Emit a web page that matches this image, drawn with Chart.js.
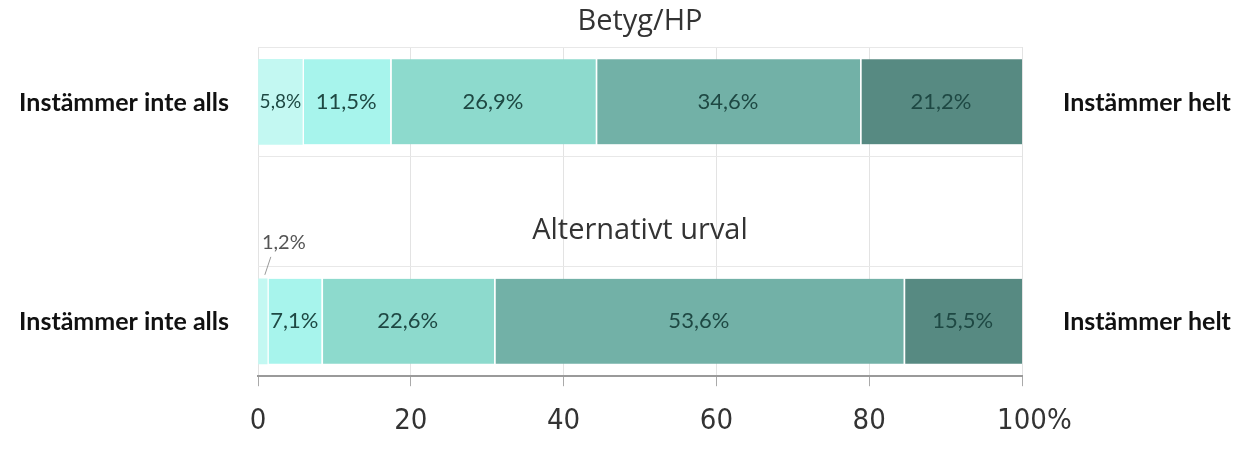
<!DOCTYPE html>
<html>
<head>
<meta charset="utf-8">
<script src="https://cdn.jsdelivr.net/npm/chart.js@4.4.1/dist/chart.umd.min.js"></script>
<style>
  html, body { margin: 0; padding: 0; background: #ffffff; }
  #wrap { width: 1254px; height: 458px; }
</style>
</head>
<body>
<div id="wrap"><canvas id="c" width="1254" height="458"></canvas></div>
<script>
// ---- data ----
const groups = ['Betyg/HP', 'Alternativt urval'];
const groupPositions = [0, 1];
const levelNames = ['Nivå 1', 'Nivå 2', 'Nivå 3', 'Nivå 4', 'Nivå 5'];
const level1 = [5.8, 1.2];
const level2 = [11.5, 7.1];
const level3 = [26.9, 22.6];
const level4 = [34.6, 53.6];
const level5 = [21.2, 15.5];
const xTicks = [0, 20, 40, 60, 80, 100];
const xTickLabels = ['0', '20', '40', '60', '80', '100'];
const unitSuffix = '%';
const leftLabel = 'Instämmer inte alls';
const rightLabel = 'Instämmer helt';

// ---- styles ----
const levels = [level1, level2, level3, level4, level5];
const colors = ['#c3f8f2', '#a7f4ec', '#8ddacd', '#72b1a7', '#578a82'];
const BAR_THICK = 85;
const fmt = v => v.toFixed(1).replace('.', ',') + '%';

const datasets = levels.map((vals, i) => ({
  label: levelNames[i],
  data: vals.map((v, j) => ({ x: v, y: groupPositions[j] })),
  backgroundColor: colors[i],
  borderColor: '#ffffff',
  borderWidth: i > 0 ? { left: 2, right: 0, top: 0, bottom: 0 } : 0,
  borderSkipped: false,
  barThickness: BAR_THICK
}));

const tickFont = { family: "'DejaVu Sans Condensed', 'DejaVu Sans', sans-serif", size: 29 };
const TICK_LEN = 10, TICK_PAD = 18;

const annot = {
  id: 'annot',
  afterDatasetsDraw(chart) {
    const ctx = chart.ctx;
    const ca = chart.chartArea;
    const ys = chart.scales.y, xs = chart.scales.x;
    ctx.save();
    // segment labels
    chart.data.datasets.forEach((ds, i) => {
      const meta = chart.getDatasetMeta(i);
      meta.data.forEach((bar, j) => {
        const p = bar.getProps(['x', 'base', 'y'], true);
        const w = Math.abs(p.x - p.base);
        const cx = (p.x + p.base) / 2;
        const txt = fmt(ds.data[j].x);
        if (w < 25) {
          const top = p.y - BAR_THICK / 2;
          ctx.strokeStyle = '#999';
          ctx.lineWidth = 1;
          ctx.beginPath();
          ctx.moveTo(cx + 2, top - 4);
          ctx.lineTo(cx + 8, top - 22);
          ctx.stroke();
          ctx.font = "20px Lato, 'Open Sans', sans-serif";
          ctx.fillStyle = '#555';
          ctx.textAlign = 'center';
          ctx.textBaseline = 'alphabetic';
          ctx.fillText(txt, cx + 21, top - 30);
        } else {
          let size = 22;
          ctx.font = size + "px Lato, 'Open Sans', sans-serif";
          while (ctx.measureText(txt).width > w - 2 && size > 8) {
            size -= 1;
            ctx.font = size + "px Lato, 'Open Sans', sans-serif";
          }
          ctx.fillStyle = '#1e4843';
          ctx.textAlign = 'center';
          ctx.textBaseline = 'middle';
          ctx.fillText(txt, cx, p.y);
        }
      });
    });
    // group titles
    ctx.fillStyle = '#333';
    ctx.textAlign = 'center';
    ctx.textBaseline = 'alphabetic';
    ctx.font = "29px 'Open Sans', sans-serif";
    const midX = (ca.left + ca.right) / 2;
    ctx.fillText(groups[0], midX, ca.top - 17);
    const top1 = ys.getPixelForValue(groupPositions[1]) - BAR_THICK / 2;
    ctx.fillText(groups[1], midX, top1 - 40);
    // side labels
    ctx.font = "bold 25px Lato, 'Open Sans', sans-serif";
    ctx.fillStyle = '#111';
    ctx.textBaseline = 'middle';
    groupPositions.forEach(pos => {
      const yy = ys.getPixelForValue(pos) + 1;
      ctx.textAlign = 'right';
      ctx.fillText(leftLabel, ca.left - 29, yy);
      ctx.textAlign = 'left';
      ctx.fillText(rightLabel, ca.right + 41, yy);
    });
    // unit suffix after last tick label
    ctx.font = tickFont.size + 'px ' + tickFont.family;
    ctx.fillStyle = '#333';
    ctx.textAlign = 'left';
    ctx.textBaseline = 'middle';
    const lastX = xs.getPixelForValue(xTicks[xTicks.length - 1]);
    const halfW = ctx.measureText(xTickLabels[xTickLabels.length - 1]).width / 2;
    const ly = xs.top + TICK_LEN + TICK_PAD + tickFont.size * 1.2 / 2;
    ctx.fillText(unitSuffix, lastX + halfW, ly);
    ctx.restore();
  }
};

new Chart(document.getElementById('c'), {
  type: 'bar',
  data: { datasets },
  options: {
    indexAxis: 'y',
    responsive: false,
    animation: false,
    devicePixelRatio: 1,
    layout: { padding: { left: 258, right: 232, top: 47, bottom: 1 } },
    plugins: { legend: { display: false }, tooltip: { enabled: false }, title: { display: false } },
    scales: {
      x: {
        type: 'linear', min: 0, max: 100, stacked: true, bounds: 'data',
        afterBuildTicks: s => { s.ticks = xTicks.map(v => ({ value: v })); },
        ticks: {
          callback: v => xTickLabels[xTicks.indexOf(v)],
          font: tickFont, color: '#333', padding: TICK_PAD,
          maxRotation: 0, autoSkip: false
        },
        grid: { color: '#e3e3e3', tickColor: '#aaa', tickLength: TICK_LEN, lineWidth: 1 },
        border: { color: '#9a9a9a', width: 2 }
      },
      y: {
        type: 'linear', reverse: true, min: -0.25, max: 1.25, stacked: true, bounds: 'data',
        offset: false,
        afterBuildTicks: s => { s.ticks = [-0.25, 0.25, 0.75, 1.25].map(v => ({ value: v })); },
        ticks: { display: false },
        grid: { color: '#e8e8e8', drawTicks: false, offset: false },
        border: { display: false }
      }
    }
  },
  plugins: [annot]
});
</script>
</body>
</html>
